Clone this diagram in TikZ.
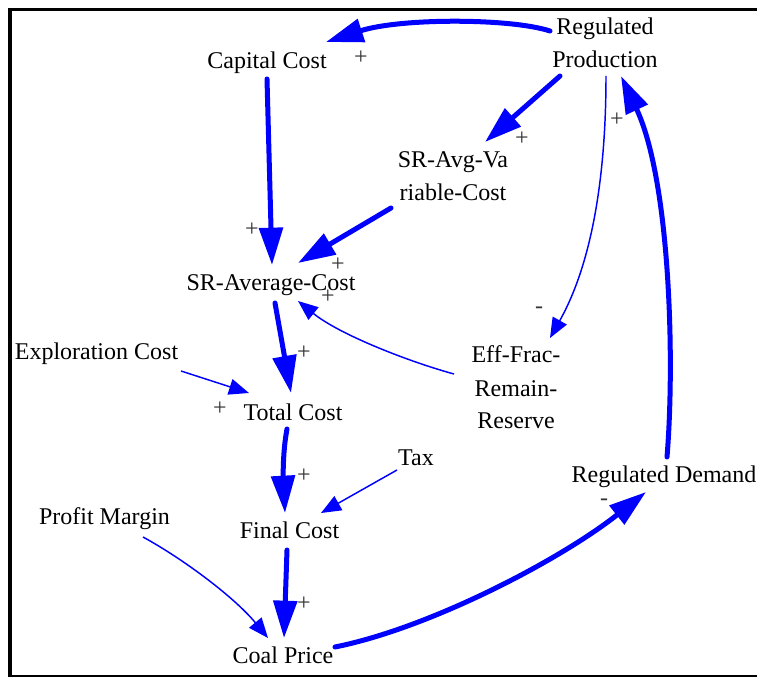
\documentclass[tikz,border=0pt]{standalone}
\usepackage{fontspec}
\setmainfont{Liberation Serif}
\usetikzlibrary{arrows.meta,calc}
\newcommand{\mlines}[1]{\begin{tabular}[t]{@{}c@{}}#1\end{tabular}}
\begin{document}
\begin{tikzpicture}[x=0.75pt,y=-0.75pt,
  var/.style={inner sep=0pt, anchor=base, font=\fontsize{18}{24.75}\selectfont},
  pol/.style={inner sep=0pt, font=\fontsize{18}{24.75}\selectfont, text=black!80},
  bigarrow/.style={draw=blue, line width=3.75pt, line cap=round, -{Triangle[length=28pt,width=17.5pt]}},
  smallarrow/.style={draw=blue, line width=1.1pt, -{Triangle[length=15pt,width=12pt]}},
  frameline/.style={draw=black}]
\useasboundingbox (0,0) rectangle (757,677);
% frame
\draw[frameline, line width=3pt] (10,8) -- (10,677);
\draw[frameline, line width=2.25pt] (8,9.5) -- (760,9.5);
\draw[frameline, line width=1.2pt] (10,676) -- (760,676);
% variables
\node[var] (cc) at (267,69) {Capital Cost};
\node[var] (rp) at (605,35) {\mlines{Regulated\\Production}};
\node[var] (sav) at (453,168) {\mlines{SR-Avg-Va\\riable-Cost}};
\node[var] (sac) at (271,291) {SR-Average-Cost};
\node[var] (ec) at (96.5,359) {Exploration Cost};
\node[var] (tc) at (293,420) {Total Cost};
\node[var] (tax) at (416,465) {Tax};
\node[var] (fc) at (289.5,538) {Final Cost};
\node[var] (pm) at (104.5,524) {Profit Margin};
\node[var] (cp) at (283,663) {Coal Price};
\node[var] (eff) at (516,363) {\mlines{Eff-Frac-\\Remain-\\Reserve}};
\node[var] (rd) at (664,482) {Regulated Demand};
% polarity signs
\node[pol] (p1) at (361,58) {+};
\node[pol] (p2) at (522,139) {+};
\node[pol] (p3) at (617,120) {+};
\node[pol] (p4) at (252,230) {+};
\node[pol] (p5) at (338,265) {+};
\node[pol] (p6) at (328,297) {+};
\node[pol] (p7) at (304,353) {+};
\node[pol] (p8) at (220,409) {+};
\node[pol] (p9) at (304,476) {+};
\node[pol] (p10) at (304,604) {+};
\node[pol] (m1) at (539,310) {-};
\node[pol] (m2) at (604,502) {-};
% connectors
\draw[bigarrow] ($(rp.base)+(-55,-4)$) .. controls ($(rp.base)+(-95,-17)$) and ($(cc.base)+(133,-51)$) .. ($(cc.base)+(59,-27)$);
\draw[bigarrow] ($(rp.base)+(-45,41)$) -- ($(sav.base)+(32,-26)$);
\draw[smallarrow] ($(rp.base)+(1,41)$) .. controls ($(rp.base)+(1,145)$) and ($(eff.base)+(75,-98)$) .. ($(eff.base)+(34,-25)$);
\draw[bigarrow] ($(rd.base)+(3,-25)$) .. controls ($(rd.base)+(11,-122)$) and ($(rp.base)+(65,145)$) .. ($(rp.base)+(16,41)$);
\draw[bigarrow] ($(cc.base)+(0,10)$) -- ($(sac.base)+(1,-26)$);
\draw[bigarrow] ($(sav.base)+(-62,40)$) -- ($(sac.base)+(27,-28)$);
\draw[smallarrow] ($(eff.base)+(-62,11)$) .. controls ($(eff.base)+(-106,-1)$) and ($(sac.base)+(69,44)$) .. ($(sac.base)+(27,10)$);
\draw[bigarrow] ($(sac.base)+(4,12)$) -- ($(tc.base)+(-2,-27)$);
\draw[smallarrow] ($(ec.base)+(84.5,12)$) -- ($(tc.base)+(-44,-27)$);
\draw[bigarrow] ($(tc.base)+(-6,9)$) .. controls ($(tc.base)+(-11,35)$) and ($(fc.base)+(-6,-53)$) .. ($(fc.base)+(-4.5,-25)$);
\draw[smallarrow] ($(tax.base)+(-19,5)$) -- ($(fc.base)+(31.5,-25)$);
\draw[bigarrow] ($(fc.base)+(-2.5,12)$) -- ($(cp.base)+(1,-25)$);
\draw[smallarrow] ($(pm.base)+(38.5,13)$) .. controls ($(pm.base)+(80.5,36)$) and ($(cp.base)+(-48,-65)$) .. ($(cp.base)+(-15,-25)$);
\draw[bigarrow] ($(cp.base)+(52,-16)$) .. controls ($(cp.base)+(147,-35)$) and ($(rd.base)+(-104,78)$) .. ($(rd.base)+(-18,10)$);
\end{tikzpicture}
\end{document}
